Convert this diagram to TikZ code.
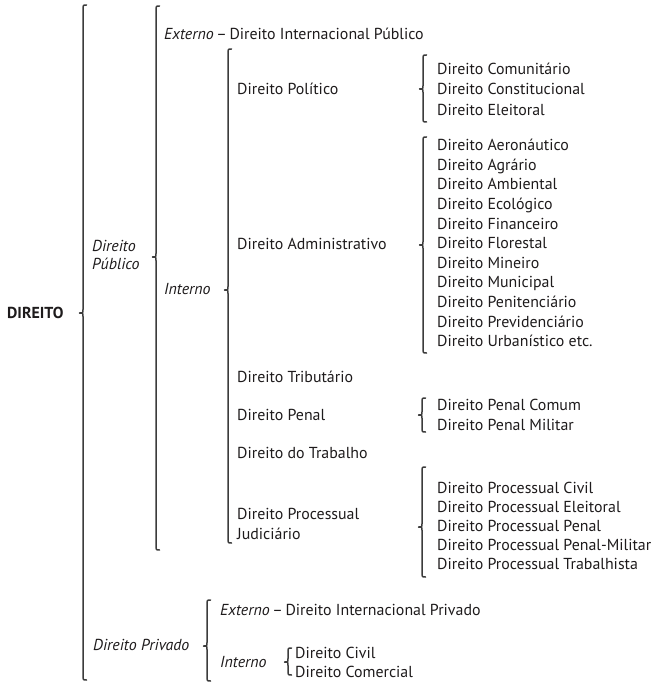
\documentclass[tikz,border=0pt]{standalone}
\usepackage{fontspec}
\setmainfont{PT Sans}
\definecolor{ink}{HTML}{1E1B1C}
\definecolor{brk}{HTML}{3C3C3C}
\newcommand\mybrc[4]{%
  \draw[brcline] (#1+3.5,#2) .. controls (#1,#2) .. (#1,#2+5)
    -- (#1,#3-3.5) .. controls (#1,#3) .. (#1-3.5,#3)
    .. controls (#1,#3) .. (#1,#3+3.5)
    -- (#1,#4-5) .. controls (#1,#4) .. (#1+3.5,#4);}
\begin{document}
\begin{tikzpicture}[x=1pt,y=-1pt,
  lbl/.style={anchor=west,inner sep=0pt,align=left,text=ink,
    font=\fontsize{15.9}{19.6}\selectfont},
  brcline/.style={draw=brk,line width=1.5pt,line cap=round,line join=round}]
\useasboundingbox (0,0) rectangle (656,684);
\node[lbl,font=\fontsize{15.9}{19.6}\selectfont\bfseries] (root) at (7,313) {DIREITO};
\node[lbl,font=\fontsize{15.9}{18.5}\selectfont\itshape] (pub) at (92,255) {Direito\\Público};
\node[lbl] (pubext) at (164,34) {\textit{Externo}\,–\,Direito Internacional Público};
\node[lbl,font=\fontsize{15.9}{19.6}\selectfont\itshape] (pubint) at (164,289) {Interno};
\node[lbl] (pol) at (237,89) {Direito Político};
\node[lbl] (adm) at (237,244) {Direito Administrativo};
\node[lbl] (trib) at (237,377) {Direito Tributário};
\node[lbl] (pen) at (237,415) {Direito Penal};
\node[lbl] (trab) at (237,453) {Direito do Trabalho};
\node[lbl] (proc) at (237,524) {Direito Processual\\Judiciário};
\node[lbl,font=\fontsize{15.9}{20.5}\selectfont] (pollist) at (437,89) {Direito Comunitário\\Direito Constitucional\\Direito Eleitoral};
\node[lbl] (admlist) at (437,243) {Direito Aeronáutico\\Direito Agrário\\Direito Ambiental\\Direito Ecológico\\Direito Financeiro\\Direito Florestal\\Direito Mineiro\\Direito Municipal\\Direito Penitenciário\\Direito Previdenciário\\Direito Urbanístico etc.};
\node[lbl,font=\fontsize{15.9}{20}\selectfont] (penlist) at (437,415) {Direito Penal Comum\\Direito Penal Militar};
\node[lbl,font=\fontsize{15.9}{19}\selectfont] (proclist) at (437,526) {Direito Processual Civil\\Direito Processual Eleitoral\\Direito Processual Penal\\Direito Processual Penal-Militar\\Direito Processual Trabalhista};
\node[lbl,font=\fontsize{15.9}{19.6}\selectfont\itshape] (priv) at (93,645) {Direito Privado};
\node[lbl] (privext) at (220,610) {\textit{Externo}\,–\,Direito Internacional Privado};
\node[lbl,font=\fontsize{15.9}{19.6}\selectfont\itshape] (privint) at (220,662) {Interno};
\node[lbl,font=\fontsize{15.9}{19}\selectfont] (privlist) at (295,662) {Direito Civil\\Direito Comercial};
\mybrc{83}{5}{313}{680}
\mybrc{156}{6}{257}{550}
\mybrc{228}{49}{290}{543}
\mybrc{423}{55}{89}{122}
\mybrc{423}{137}{245}{353}
\mybrc{422}{398}{415}{432}
\mybrc{422}{467}{527}{577}
\mybrc{207}{600}{646}{681}
\mybrc{288}{648}{662}{675}
\end{tikzpicture}
\end{document}
